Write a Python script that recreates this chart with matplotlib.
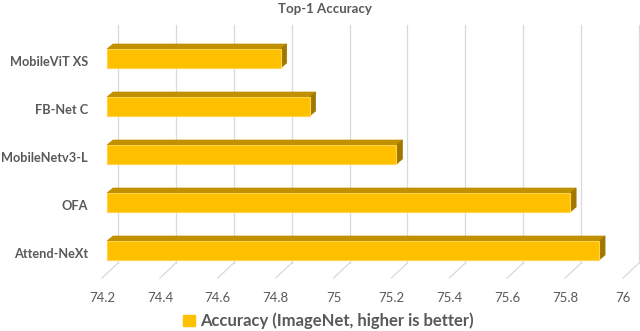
import matplotlib
matplotlib.use("Agg")
import matplotlib.pyplot as plt
from matplotlib.patches import Polygon, Patch
from matplotlib.transforms import ScaledTranslation, blended_transform_factory
from matplotlib.lines import Line2D

categories = ["MobileViT XS", "FB-Net C", "MobileNetv3-L", "OFA", "Attend-NeXt"]
values = [74.8, 74.9, 75.2, 75.8, 75.9]
xticks = [74.2, 74.4, 74.6, 74.8, 75.0, 75.2, 75.4, 75.6, 75.8, 76.0]
xtick_labels = ["74.2", "74.4", "74.6", "74.8", "75", "75.2", "75.4", "75.6", "75.8", "76"]
series_name = "Accuracy (ImageNet, higher is better)"
title = "Top-1 Accuracy"

plt.rcParams['font.family'] = ['Lato', 'DejaVu Sans']
TXT = "#595959"
FRONT = "#FFC000"
TOP = "#BF9000"
SIDE = "#A07800"
GRID = "#D9D9D9"

W, H, DPI = 640, 331, 100
fig = plt.figure(figsize=(W / DPI, H / DPI), dpi=DPI)

# axes box in pixels (front floor plane)
L, R, T, B = 102, 623, 25, 278
ax = fig.add_axes([L / W, (H - B) / H, (R - L) / W, (B - T) / H])
xmin, xmax = xticks[0], xticks[-1]
ax.set_xlim(xmin, xmax)
row_px = 48.0
ax_h = B - T
top_off = 38.0
ax.set_ylim((ax_h - top_off) / row_px, -top_off / row_px)

px_x = (R - L) / (xmax - xmin)   # pixels per data unit in x
# oblique depth of floor (front -> back)
floor_dx, floor_dy = 16.0, 15.0
back_y_ax = floor_dy / ax_h

xt = blended_transform_factory(ax.transData, ax.transAxes)
for v in xticks:
    bx = v + floor_dx / px_x
    ax.add_line(Line2D([bx, bx], [back_y_ax, 1.0], transform=xt, color=GRID,
                       lw=0.9, zorder=0, clip_on=False))
    ax.add_line(Line2D([v, bx], [0, back_y_ax], transform=xt, color=GRID,
                       lw=0.9, zorder=0, clip_on=False))

# bars (front face shifted into the depth)
off = ax.transData + ScaledTranslation(5 / DPI, 4.5 / DPI, fig.dpi_scale_trans)
bh = 19.0 / row_px
ddx = 6.0 / px_x
ddy = 5.0 / row_px
ypos = list(range(len(categories)))
bars = ax.barh(ypos, [v - xmin for v in values], left=xmin, height=bh,
               color=FRONT, edgecolor="#FFD34D", linewidth=0.8, zorder=3)
for rect, y, v in zip(bars, ypos, values):
    rect.set_transform(off)
    rect.set_clip_on(False)
    ytop, ybot = y - bh / 2, y + bh / 2
    top = Polygon([(xmin, ytop), (v, ytop), (v + ddx, ytop - ddy), (xmin + ddx, ytop - ddy)],
                  closed=True, facecolor=TOP, edgecolor=TOP, lw=0.5, transform=off,
                  zorder=2, clip_on=False)
    side = Polygon([(v, ytop), (v + ddx, ytop - ddy), (v + ddx, ybot - ddy), (v, ybot)],
                   closed=True, facecolor=SIDE, edgecolor=SIDE, lw=0.5, transform=off,
                   zorder=2, clip_on=False)
    ax.add_patch(top)
    ax.add_patch(side)

ax.set_yticks([y - 2.0 / row_px for y in ypos])
ax.set_yticklabels(categories, fontsize=9.2, fontweight="bold", color=TXT)
ax.set_xticks(xticks)
ax.set_xticklabels(xtick_labels, fontsize=9.5, color=TXT)
ax.tick_params(axis="both", length=0)
ax.tick_params(axis="x", pad=10)
ax.tick_params(axis="y", pad=10)
for s in ax.spines.values():
    s.set_visible(False)
ax.patch.set_visible(False)

fig.text(0.508, 1 - 9 / H, title, ha="center", va="center", fontsize=9.5,
         fontweight="bold", color=TXT)

fig.legend(handles=[Patch(facecolor=FRONT, edgecolor=FRONT)], labels=[series_name],
           loc="center", bbox_to_anchor=(0.513, 1 - 321 / H), frameon=False,
           handlelength=0.7, handleheight=0.7, handletextpad=0.3,
           prop={"size": 12, "weight": "bold"}, labelcolor=TXT)

fig.savefig("out.png", dpi=DPI)
